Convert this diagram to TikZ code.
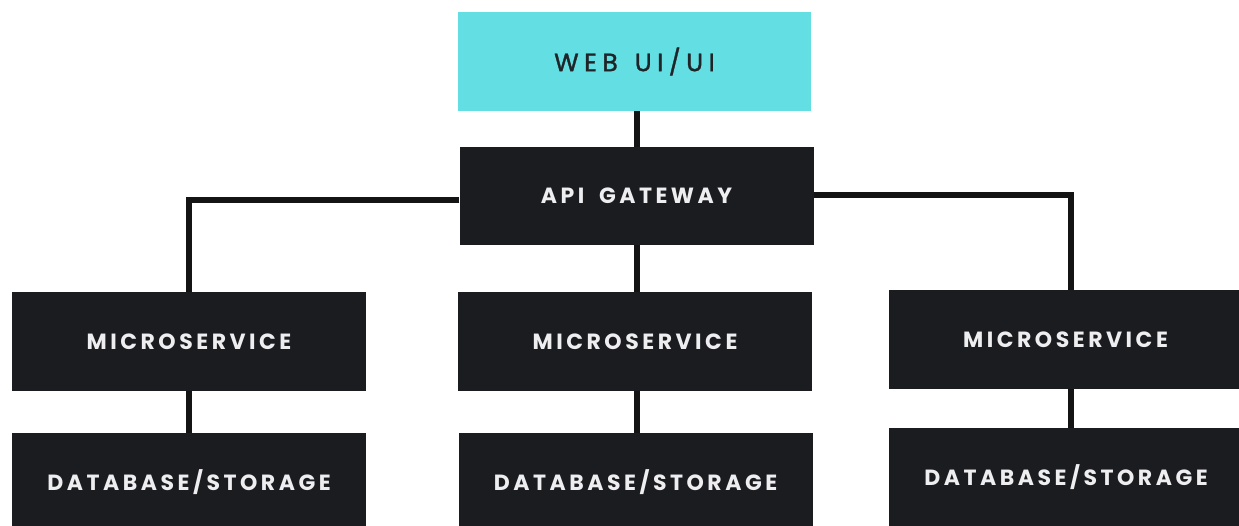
\documentclass[tikz,border=0pt]{standalone}
\usepackage{fontspec}
\newfontfamily\boxfont{Poppins}[LetterSpace=16,WordSpace=1.8]
\newfontfamily\webfont{Poppins}[LetterSpace=22,WordSpace=1.4,FakeBold=1.4]
\definecolor{boxdark}{HTML}{1B1C20}
\definecolor{webcyan}{HTML}{63DEE2}
\definecolor{textlight}{HTML}{EEEEF0}
\definecolor{textdark}{HTML}{1F2428}
\definecolor{wire}{HTML}{141414}
\tikzset{
  darkbox/.style={rectangle, fill=boxdark, draw=none, minimum width=354pt,
    minimum height=99pt, inner sep=0pt, text=textlight,
    font=\boxfont\bfseries\fontsize{22}{25}\selectfont},
  webbox/.style={rectangle, fill=webcyan, draw=none, minimum width=353pt,
    minimum height=99pt, inner sep=0pt, text=textdark,
    font=\webfont\fontsize{25}{28}\selectfont},
  wireline/.style={draw=wire, line width=6.5pt}
}
\begin{document}
\begin{tikzpicture}[x=1pt,y=-1pt]
  \useasboundingbox (0,0) rectangle (1239,525);
  % top layer
  \node[webbox] (web) at (634.5,61.5) {WEB UI/UI};
  \node[darkbox, minimum height=98pt] (api) at (636.5,196) {API GATEWAY};
  % service row
  \node[darkbox] (ms1) at (189,341.5) {MICROSERVICE};
  \node[darkbox] (ms2) at (635,341.5) {MICROSERVICE};
  \node[darkbox] (ms3) at (1065.5,339.5) {MICROSERVICE};
  % storage row
  \node[darkbox] (db1) at (189,482.5) {DATABASE/STORAGE};
  \node[darkbox] (db2) at (635.5,482.5) {DATABASE/STORAGE};
  \node[darkbox] (db3) at (1066,477.5) {DATABASE/STORAGE};
  % connectors, each ending on a box border
  \coordinate (jl) at (189,200);
  \coordinate (jr) at (1071,195);
  \draw[wireline] ([xshift=2.5pt]web.south) -- ([xshift=0.5pt]api.north);
  \draw[wireline] ([xshift=0.5pt]api.south) -- ([xshift=2pt]ms2.north);
  \draw[wireline] (api.west |- jl) -- (jl) -- (jl |- ms1.north);
  \draw[wireline] (api.east |- jr) -- (jr) -- (jr |- ms3.north);
  \draw[wireline] (ms1.south) -- (db1.north);
  \draw[wireline] ([xshift=2pt]ms2.south) -- ([xshift=1.5pt]db2.north);
  \draw[wireline] ([xshift=5.5pt]ms3.south) -- ([xshift=5pt]db3.north);
\end{tikzpicture}
\end{document}
